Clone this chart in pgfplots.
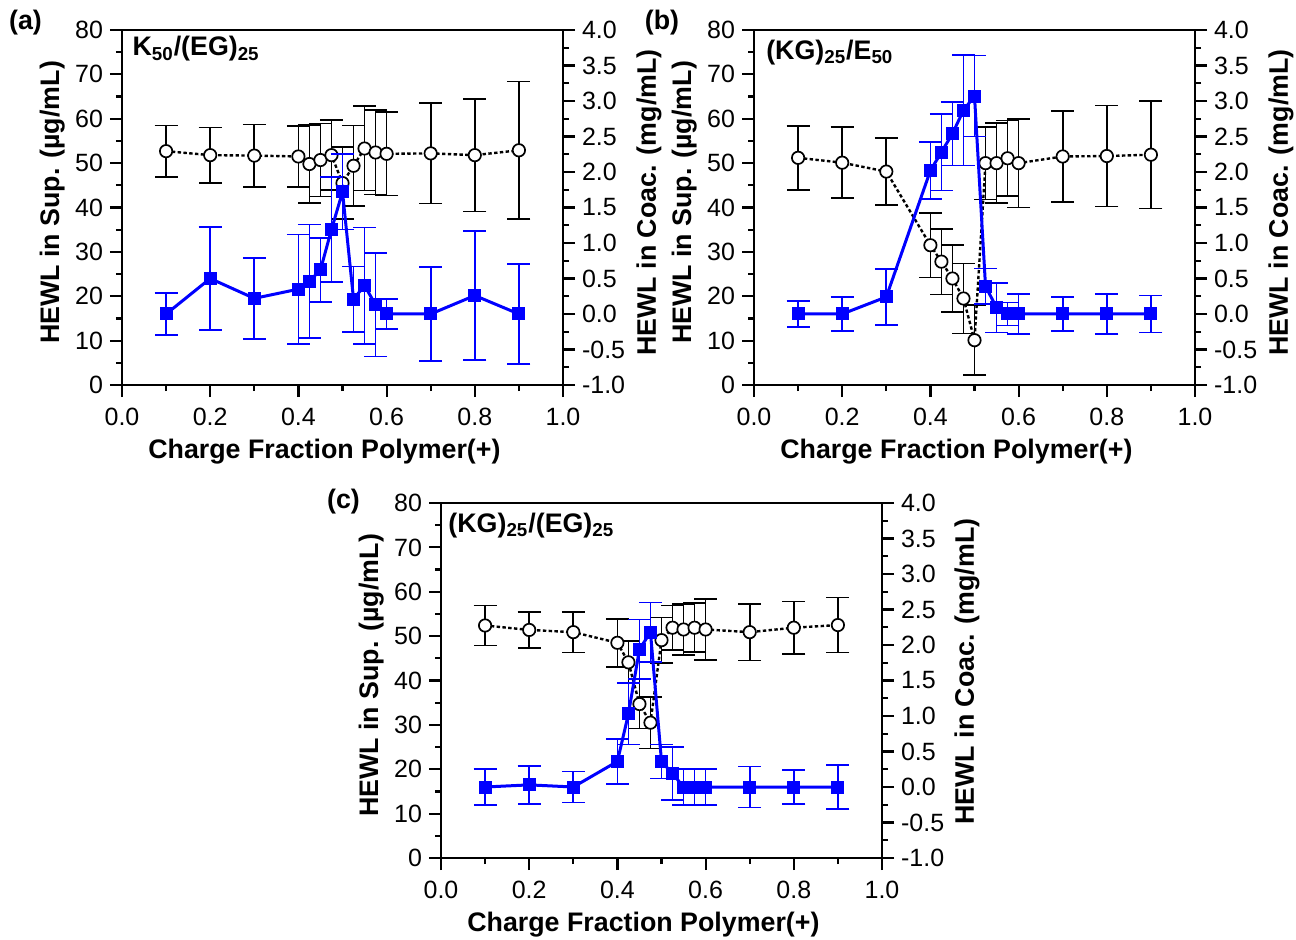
\documentclass[border=0pt]{standalone}
\usepackage{fontspec}
\setmainfont{Liberation Sans}
\usepackage{pgfplots}
\pgfplotsset{compat=1.18}
\usepackage{pgfplotstable}

% panel (a)
\pgfplotstableread{
x y e
0.1 52.7 5.8
0.2 51.8 6.2
0.3 51.7 7.0
0.4 51.5 6.9
0.425 49.8 8.8
0.45 50.7 8.2
0.475 51.8 7.9
0.5 45.5 8.1
0.525 49.4 9.1
0.55 53.3 9.5
0.575 52.4 9.5
0.6 52.1 9.4
0.7 52.2 11.3
0.8 51.8 12.7
0.9 52.9 15.5
}\ablack
\pgfplotstableread{
x y e
0.1 0.00 0.30
0.2 0.50 0.73
0.3 0.22 0.57
0.4 0.35 0.77
0.425 0.46 0.80
0.45 0.62 0.45
0.475 1.19 0.74
0.5 1.72 0.53
0.525 0.21 0.46
0.55 0.40 0.82
0.575 0.13 0.73
0.6 0.00 0.21
0.7 0.00 0.66
0.8 0.26 0.91
0.9 0.00 0.70
}\ablue
% panel (b)
\pgfplotstableread{
x y e
0.1 51.2 7.2
0.2 50.1 8.0
0.3 48.1 7.6
0.4 31.5 7.3
0.425 27.8 7.4
0.45 24.0 7.5
0.475 19.5 7.9
0.5 10.1 7.9
0.525 50.0 8.2
0.55 50.0 9.0
0.575 51.1 8.5
0.6 50.0 10.0
0.7 51.5 10.3
0.8 51.6 11.4
0.9 51.9 12.1
}\bblack
\pgfplotstableread{
x y e
0.1 0.00 0.18
0.2 0.00 0.24
0.3 0.24 0.39
0.4 2.02 0.40
0.425 2.28 0.54
0.45 2.54 0.45
0.475 2.87 0.78
0.5 3.07 0.57
0.525 0.39 0.25
0.55 0.09 0.35
0.575 0.00 0.16
0.6 0.00 0.28
0.7 0.00 0.24
0.8 0.00 0.28
0.9 0.00 0.26
}\bblue
% panel (c)
\pgfplotstableread{
x y e
0.1 52.4 4.5
0.2 51.4 4.0
0.3 50.9 4.6
0.4 48.5 5.4
0.425 44.1 4.8
0.45 34.7 5.5
0.475 30.5 5.8
0.5 49.1 5.1
0.525 51.9 5.0
0.55 51.5 5.8
0.575 51.9 5.5
0.6 51.5 6.9
0.7 50.9 6.4
0.8 51.9 5.9
0.9 52.5 6.2
}\cblack
\pgfplotstableread{
x y e
0.1 0.00 0.25
0.2 0.03 0.27
0.3 0.00 0.22
0.4 0.36 0.32
0.425 1.03 0.43
0.45 1.94 0.42
0.475 2.18 0.42
0.5 0.36 0.24
0.525 0.19 0.37
0.55 0.00 0.25
0.575 0.00 0.25
0.6 0.00 0.25
0.7 0.00 0.29
0.8 0.00 0.24
0.9 0.00 0.31
}\cblue

\newcommand{\lblfont}{\bfseries\fontsize{13.4}{16}\selectfont}
\newcommand{\tickfont}{\fontsize{12.5}{15}\selectfont}

\pgfplotsset{
  base/.style={
    scale only axis, width=220.5pt, height=177.5pt,
    xmin=0, xmax=1, anchor=south west, clip=false,
    tick align=outside, major tick length=6pt, minor tick length=3pt,
    axis line style={line width=1.1pt},
    every tick/.style={line width=1.1pt, black},
    tick label style={font=\tickfont},
    /pgf/number format/assume math mode=true,
  },
  leftax/.style={
    base, ymin=0, ymax=80,
    ytick={0,10,20,30,40,50,60,70,80}, minor y tick num=1,
    xtick={0,0.2,0.4,0.6,0.8,1}, minor x tick num=1,
    xtick pos=bottom, ytick pos=left,
    xticklabel style={yshift=-2pt, /pgf/number format/.cd, fixed, fixed zerofill, precision=1},
  },
  rightax/.style={
    base, ymin=-1, ymax=4,
    ytick={-1,-0.5,0,0.5,1,1.5,2,2.5,3,3.5,4}, minor y tick num=1,
    axis y line*=right, axis x line=none,
    yticklabel style={/pgf/number format/.cd, fixed, fixed zerofill, precision=1},
  },
  blk/.style={black, line width=1.2pt, dash pattern=on 1.7pt off 1.2pt,
    mark=*, mark size=3.1pt, mark options={solid, fill=white, draw=black, line width=0.85pt},
    error bars/.cd, y dir=both, y explicit,
    error bar style={solid, line width=0.85pt, black},
    error mark options={rotate=90, mark size=5.75pt, solid, line width=0.85pt, black}},
  blu/.style={blue, line width=1.5pt, solid,
    mark=square*, mark size=3pt, mark options={solid, fill=blue, draw=blue, line width=0.5pt},
    error bars/.cd, y dir=both, y explicit,
    error bar style={solid, line width=0.85pt, blue},
    error mark options={rotate=90, mark size=5.75pt, solid, line width=0.85pt, blue}},
}

\begin{document}
\begin{tikzpicture}
\path[use as bounding box] (0,0) rectangle (648pt,469.5pt);

% ---------- panel (a) ----------
\begin{axis}[leftax, at={(61pt,277pt)}]
\addplot[blk] table[x=x, y=y, y error=e] {\ablack};
\node[rotate=90, font=\lblfont] at (axis description cs:-0.158,0.514) {HEWL in Sup. (µg/mL)};
\node[font=\lblfont] at (axis description cs:0.459,-0.189) {Charge Fraction Polymer(+)};
\node[anchor=base west, inner sep=0pt, font=\lblfont] at (axis description cs:0.023,0.927) {K\textsubscript{50}/(EG)\textsubscript{25}};
\end{axis}
\begin{axis}[rightax, at={(61pt,277pt)}]
\addplot[blu] table[x=x, y=y, y error=e] {\ablue};
\node[rotate=90, font=\lblfont] at (axis description cs:1.195,0.514) {HEWL in Coac. (mg/mL)};
\end{axis}

% ---------- panel (b) ----------
\begin{axis}[leftax, at={(377pt,277pt)}]
\addplot[blk] table[x=x, y=y, y error=e] {\bblack};
\node[rotate=90, font=\lblfont] at (axis description cs:-0.158,0.514) {HEWL in Sup. (µg/mL)};
\node[font=\lblfont] at (axis description cs:0.459,-0.189) {Charge Fraction Polymer(+)};
\node[anchor=base west, inner sep=0pt, font=\lblfont] at (axis description cs:0.027,0.918) {(KG)\textsubscript{25}/E\textsubscript{50}};
\end{axis}
\begin{axis}[rightax, at={(377pt,277pt)}]
\addplot[blu] table[x=x, y=y, y error=e] {\bblue};
\node[rotate=90, font=\lblfont] at (axis description cs:1.195,0.514) {HEWL in Coac. (mg/mL)};
\end{axis}

% ---------- panel (c) ----------
\begin{axis}[leftax, at={(220.5pt,40.5pt)}]
\addplot[blk] table[x=x, y=y, y error=e] {\cblack};
\node[rotate=90, font=\lblfont] at (axis description cs:-0.158,0.514) {HEWL in Sup. (µg/mL)};
\node[font=\lblfont] at (axis description cs:0.459,-0.189) {Charge Fraction Polymer(+)};
\node[anchor=base west, inner sep=0pt, font=\lblfont] at (axis description cs:0.016,0.918) {(KG)\textsubscript{25}/(EG)\textsubscript{25}};
\end{axis}
\begin{axis}[rightax, at={(220.5pt,40.5pt)}]
\addplot[blu] table[x=x, y=y, y error=e] {\cblue};
\node[rotate=90, font=\lblfont] at (axis description cs:1.193,0.525) {HEWL in Coac. (mg/mL)};
\end{axis}

% panel letters
\node[font=\lblfont] at (12.75pt,458pt) {(a)};
\node[font=\lblfont] at (331pt,458pt) {(b)};
\node[font=\lblfont] at (171.75pt,218.5pt) {(c)};
\end{tikzpicture}
\end{document}
